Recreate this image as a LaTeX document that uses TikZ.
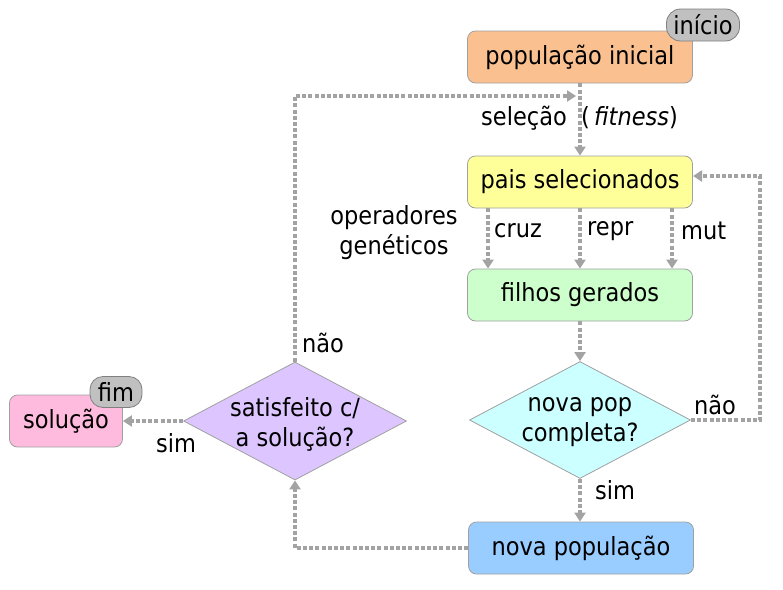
\documentclass[tikz,border=0pt]{standalone}
\usepackage{fontspec}
\setmainfont{DejaVu Sans Condensed}
\usetikzlibrary{arrows.meta,shapes.geometric}
\definecolor{bordc}{HTML}{A0A0A0}
\definecolor{linec}{HTML}{A3A3A3}
\definecolor{corange}{HTML}{FAC090}
\definecolor{cyellow}{HTML}{FFFF99}
\definecolor{cgreen}{HTML}{CCFFCC}
\definecolor{ccyan}{HTML}{CCFFFF}
\definecolor{cblue}{HTML}{99CCFF}
\definecolor{clav}{HTML}{DDC6FF}
\definecolor{cpink}{HTML}{FFBBDD}
\definecolor{ctag}{HTML}{C0C0C0}
\begin{document}
\begin{tikzpicture}[x=1pt,y=-1pt,
  txt/.style={font=\fontsize{25}{30}\selectfont, inner sep=0pt},
  box/.style={txt, draw=bordc, line width=0.8pt, rounded corners=8pt, minimum width=225pt, minimum height=52pt},
  tag/.style={txt, draw=gray, line width=0.8pt, fill=ctag, rounded corners=14pt, minimum height=32pt},
  dia/.style={shape=diamond, draw=bordc, line width=0.8pt, inner sep=0pt, minimum width=221pt, minimum height=117pt},
  conn/.style={draw=linec, line width=4pt, dash pattern=on 4pt off 2.2pt, -{Triangle[width=11pt,length=9pt]}}
]
\useasboundingbox (0,0) rectangle (783,589);

% nodes
\node[box, fill=corange] (popini) at (580,57) {população inicial};
\node[box, fill=cyellow] (pais) at (580,182) {pais selecionados};
\node[box, fill=cgreen] (filhos) at (580,295) {filhos gerados};
\node[dia, fill=ccyan] (novapop) at (580,420) {};
\node[txt, align=center] (novapoptxt) at (580,422) {nova pop\\completa?};
\node[box, fill=cblue] (novapopul) at (581,548) {nova população};
\node[dia, fill=clav, minimum width=223pt, minimum height=118pt] (satis) at (295,421) {};
\node[txt, align=center] (satistxt) at (295,424) {satisfeito c/\\a solução?};
\node[box, fill=cpink, minimum width=113pt] (sol) at (66,421) {solução};
\node[tag, minimum width=73pt] (inicio) at (703,25) {início};
\node[tag, minimum width=52pt, rounded corners=13pt, minimum height=31pt] (fim) at (116,392) {fim};

% coordinates
\coordinate (loopA) at (295,96);
\coordinate (loopB) at (576,96);
\coordinate (rtA) at (760,420);
\coordinate (rtB) at (760,176);
\coordinate (paisR) at (693,176);
\coordinate (blA) at (295,548);

% connectors
\draw[conn] (popini.south) -- (pais.north);
\draw[conn] (satis.north) -- (loopA) -- (loopB);
\draw[conn] ([xshift=-92pt]pais.south) -- ([xshift=-92pt]filhos.north);
\draw[conn] (pais.south) -- (filhos.north);
\draw[conn] ([xshift=92pt]pais.south) -- ([xshift=92pt]filhos.north);
\draw[conn] (filhos.south) -- (novapop.north);
\draw[conn] (novapop.east) -- (rtA) -- (rtB) -- (paisR);
\draw[conn] (novapop.south) -- (novapop.south |- novapopul.north);
\draw[conn] (novapopul.west) -- (blA) -- (satis.south);
\draw[conn] (satis.west) -- (sol.east);

% labels
\node[txt, anchor=east] (lsel) at (567,118) {seleção};
\node[txt, anchor=west] (lfit) at (581,118) {(\,\textit{fitness})};
\node[txt, anchor=west] (lnao1) at (302,343) {não};
\node[txt, align=center] (lop) at (394,233) {operadores\\genéticos};
\node[txt, anchor=west] (lcruz) at (494,231) {cruz};
\node[txt, anchor=west] (lrepr) at (587,231) {repr};
\node[txt, anchor=west] (lmut) at (681,231) {mut};
\node[txt, anchor=west] (lnao2) at (694,405) {não};
\node[txt, anchor=west] (lsim1) at (595,490) {sim};
\node[txt] (lsim2) at (176,443) {sim};
\end{tikzpicture}
\end{document}
